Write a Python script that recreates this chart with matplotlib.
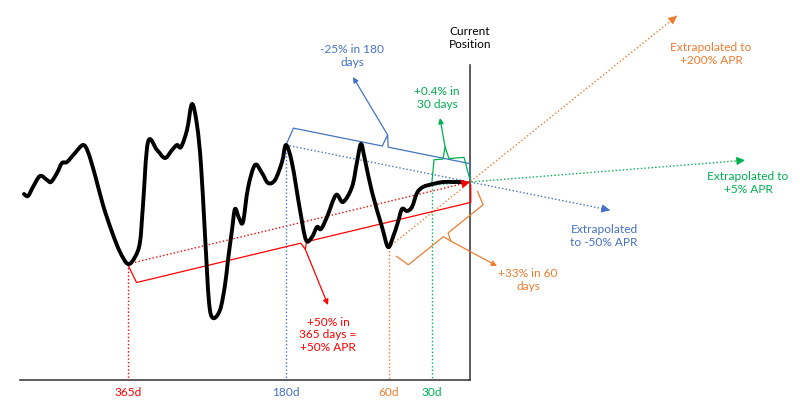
import numpy as np
import matplotlib
matplotlib.use("Agg")
import matplotlib.pyplot as plt
from matplotlib.path import Path
from matplotlib.patches import PathPatch

plt.rcParams["font.family"] = ["Lato", "DejaVu Sans"]

# ── 1.  Sketch data (units follow the drawing, y grows downwards) ───────────
price_x = [24, 28, 33, 40, 47, 51, 57, 62, 67, 75, 83, 88, 95, 103, 112, 120,
           128, 135, 140, 143, 148, 157, 165, 172, 177, 181, 187, 192, 197,
           201, 205, 209, 213, 220, 225, 228, 232, 235, 239, 243, 248, 255,
           262, 268, 275, 282, 286, 292, 300, 306, 312, 317, 321, 327, 336,
           343, 352, 357, 361, 365, 372, 382, 388, 393, 398, 402, 407, 412,
           417, 423, 433, 443, 453, 462]
price_y = [194, 196, 187, 176, 180, 182, 173, 163, 162, 153, 145, 152, 175,
           205, 232, 252, 264, 257, 242, 205, 142, 150, 158, 150, 145, 147,
           130, 104, 125, 165, 235, 302, 318, 310, 285, 260, 230, 209, 218,
           222, 188, 165, 173, 183, 180, 162, 145, 163, 210, 240, 237, 227,
           229, 217, 195, 202, 187, 162, 144, 160, 192, 227, 247, 237, 222,
           209, 211, 207, 193, 187, 184, 182, 182, 182]

period_labels = ["365d", "180d", "60d", "30d"]
period_x = [128, 286, 389, 432]
period_y = [264, 145, 247, 185]
period_colors = ["#FF0000", "#4472C4", "#ED7D31", "#00B050"]

current_x, current_y = 470, 182

# x reached by each extrapolated trend (365d trend stops at "now")
extrap_x = [470, 610, 677, 745]

change_text = ["+50% in\n365 days =\n+50% APR", "-25% in 180\ndays",
               "+33% in 60\ndays", "+0.4% in\n30 days"]
extrap_text = [None, "Extrapolated\nto -50% APR", "Extrapolated to\n+200% APR",
               "Extrapolated to\n+5% APR"]

# ── 2.  Layout bits ─────────────────────────────────────────────────────────
axis_y, axis_left, axis_top = 380, 20, 65
change_pos = [(328, 335), (352, 56), (528, 280), (437, 98)]
extrap_pos = [None, (604, 236), (711, 54), (748, 183)]
# brace: signed offset, arm gap, notch fraction, notch length, arrow tip
brace_cfg = [
    (20, 2, 0.50, 7, (328, 305)),
    (-18, 0, 0.52, 12, (353, 77)),
    (26, 12, 0.50, 8, (497, 266)),
    (-25, 2, 0.42, 12, (440, 118)),
]

FS = 8.6
DOT = (0, (1, 1.6))

fig = plt.figure(figsize=(8, 4.13), dpi=100)
ax = fig.add_axes([0, 0, 1, 1])
ax.set_xlim(0, 800)
ax.set_ylim(413, 0)
ax.axis("off")


def arrow_head(p_from, p_to, color):
    ax.annotate("", xy=p_to, xytext=p_from,
                arrowprops=dict(arrowstyle="-|>", color=color, lw=0.9,
                                mutation_scale=12, shrinkA=0, shrinkB=0),
                zorder=6)


def brace(p0, p1, d, gap, frac, notch, color):
    p0 = np.array(p0, float)
    p1 = np.array(p1, float)
    L = np.hypot(*(p1 - p0))
    u = (p1 - p0) / L
    n = np.array([-u[1], u[0]]) * np.sign(d)
    dist = abs(d)
    mid = p0 + u * frac * L + n * dist
    pts = [p0 + n * gap,
           p0 + u * 4 + n * dist,
           mid - u * 3,
           mid + n * notch,
           mid + u * 3,
           p1 - u * 4 + n * dist,
           p1 + n * max(gap, 3)]
    pts = np.array(pts)
    ax.plot(pts[:, 0], pts[:, 1], color=color, lw=0.9, zorder=3)
    return mid + n * notch


def smooth_path(xs, ys):
    # cubic bezier through every point (catmull-rom handles)
    pts = np.column_stack([xs, ys]).astype(float)
    verts, codes = [pts[0]], [Path.MOVETO]
    for i in range(len(pts) - 1):
        p0 = pts[i - 1] if i > 0 else pts[i]
        p1, p2 = pts[i], pts[i + 1]
        p3 = pts[i + 2] if i + 2 < len(pts) else pts[i + 1]
        verts += [p1 + (p2 - p0) / 6, p2 - (p3 - p1) / 6, p2]
        codes += [Path.CURVE4] * 3
    return Path(verts, codes)


# ── 3.  Axes of the sketch ──────────────────────────────────────────────────
ax.plot([axis_left, current_x], [axis_y, axis_y], color="#404040", lw=1.2, zorder=2)
ax.plot([current_x, current_x], [axis_top, axis_y], color="#404040", lw=1.2, zorder=2)
ax.text(current_x, 38, "Current\nPosition", ha="center", va="center",
        fontsize=FS, color="black", linespacing=1.15)

# ── 4.  Trend lines, braces, labels ─────────────────────────────────────────
for i in range(4):
    c = period_colors[i]
    px, py = period_x[i], period_y[i]
    slope = (current_y - py) / (current_x - px)
    ex = extrap_x[i]
    ey = current_y + slope * (ex - current_x)
    ax.plot([px, ex], [py, ey], color=c, lw=1.0, ls=DOT, zorder=2)
    # arrow head at the end of the trend
    back = np.array([ex, ey]) - 8 * np.array([1, slope]) / np.hypot(1, slope)
    arrow_head(tuple(back), (ex, ey), c)
    # drop line to the time axis
    ax.plot([px, px], [py, axis_y], color=c, lw=1.0, ls=DOT, zorder=2)
    ax.text(px, axis_y + 13, period_labels[i], ha="center", va="center",
            fontsize=FS, color=c)

    d, gap, frac, notch, tip = brace_cfg[i]
    start = brace((px, py), (current_x, current_y), d, gap, frac, notch, c)
    ax.annotate("", xy=tip, xytext=tuple(start),
                arrowprops=dict(arrowstyle="-|>", color=c, lw=0.9,
                                mutation_scale=8, shrinkA=0, shrinkB=0),
                zorder=3)
    ax.text(*change_pos[i], change_text[i], ha="center", va="center",
            fontsize=FS, color=c, linespacing=1.15)
    if extrap_text[i]:
        ax.text(*extrap_pos[i], extrap_text[i], ha="center", va="center",
                fontsize=FS, color=c, linespacing=1.15)

# ── 5.  Price path ──────────────────────────────────────────────────────────
ax.add_patch(PathPatch(smooth_path(price_x, price_y), fill=False, ec="black",
                       lw=2.8, joinstyle="round", capstyle="round", zorder=5))

fig.savefig("out.png", dpi=100)
